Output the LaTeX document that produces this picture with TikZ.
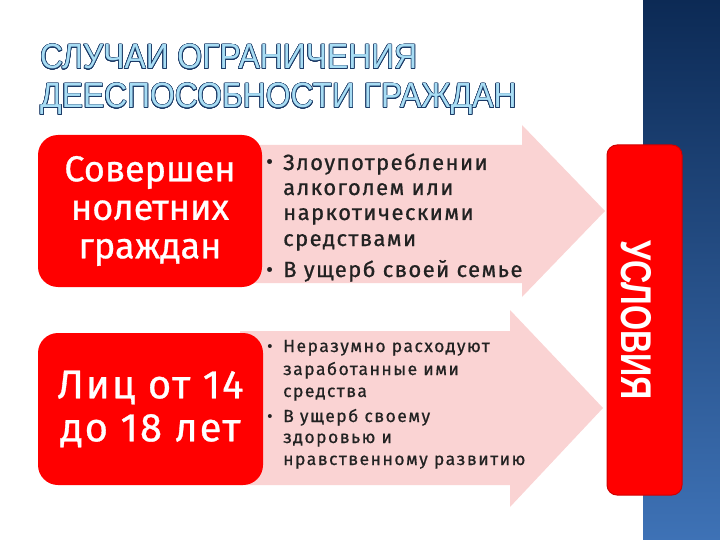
\documentclass[tikz,border=0pt]{standalone}
\usepackage{fontspec}
\setmainfont{Fira Sans}
\newfontfamily\titlefont[FakeStretch=0.91]{Liberation Sans}
\newfontfamily\condfont[FakeStretch=0.75]{Liberation Sans}
\newfontfamily\bodyfontA[FakeBold=0.8, LetterSpace=6.5]{Fira Sans}
\newfontfamily\bodyfontB[FakeBold=0.6, LetterSpace=8.5]{Fira Sans}
\newfontfamily\boxfontA[FakeBold=0.8]{Fira Sans}
\newfontfamily\boxfontB[FakeBold=0.8, LetterSpace=5]{Fira Sans}
\usepackage[copies]{contour}
\contourlength{0.6pt}
\contournumber{24}
\definecolor{boxred}{HTML}{FF0000}
\definecolor{boxedge}{HTML}{D00000}
\definecolor{pinkarrow}{HTML}{FAD3D3}
\definecolor{navy}{HTML}{1B3A66}
\definecolor{titlefill}{HTML}{A8DDF4}
\definecolor{bodytext}{HTML}{222222}
\definecolor{bartop}{HTML}{0C2A55}
\definecolor{barbot}{HTML}{3E72B6}
\tikzset{
  redbox/.style={fill=boxred, rounded corners=20pt, inner sep=0pt, text=white, align=center},
  titleline/.style={anchor=base west, inner sep=0pt, text=titlefill, font=\titlefont\fontsize{35}{38}\selectfont},
  bigtext/.style={anchor=base west, inner sep=0pt, text=bodytext, font=\bodyfontA\fontsize{22}{25}\selectfont},
  smalltext/.style={anchor=base west, inner sep=0pt, text=bodytext, font=\bodyfontB\fontsize{17.5}{22}\selectfont},
  bulletmark/.style={anchor=base west, inner sep=0pt, text=bodytext},
  pinkshape/.style={fill=pinkarrow}
}
\begin{document}
\begin{tikzpicture}[x=1pt,y=-1pt]
\useasboundingbox (0,0) rectangle (720,540);
% right blue bar
\shade[top color=bartop, bottom color=barbot] (643,0) rectangle (720,540);
% title
\node[titleline] (title1) at (40,69) {\contour{navy}{СЛУЧАИ ОГРАНИЧЕНИЯ}};
\node[titleline] (title2) at (40,108) {\contour{navy}{ДЕЕСПОСОБНОСТИ ГРАЖДАН}};
% pink arrows
\fill[pinkshape] (240,145) -- (522,145) -- (522,125) -- (605,211) -- (522,297) -- (522,283) -- (240,283) -- cycle;
\fill[pinkshape] (240,331) -- (510,331) -- (510,310) -- (603,408) -- (510,507) -- (510,485) -- (240,485) -- cycle;
% red boxes
\node[redbox, minimum width=224, minimum height=152, font=\boxfontA\fontsize{36}{38.5}\selectfont] (box1) at (150,211) {Совершен\\нолетних\\граждан};
\node[redbox, minimum width=225, minimum height=152, font=\boxfontB\fontsize{40}{43}\selectfont] (box2) at (150.5,409) {Лиц от 14\\до 18 лет};
% conditions box
\node[fill=boxred, draw=boxedge, line width=1pt, rounded corners=10pt, minimum width=75, minimum height=350, inner sep=0pt] (cond) at (644.5,320) {};
\node[rotate=-90, inner sep=0pt, text=white, font=\condfont\bfseries\fontsize{43}{45}\selectfont] (condtext) at (636.5,320) {УСЛОВИЯ};
% arrow 1 text
\node[bulletmark, font=\fontsize{22}{25}\selectfont] (b1a) at (266,170) {•};
\node[bigtext] (t1a) at (283,170) {Злоупотреблении};
\node[bigtext] (t1b) at (283,195) {алкоголем или};
\node[bigtext] (t1c) at (283,220) {наркотическими};
\node[bigtext] (t1d) at (283,246) {средствами};
\node[bulletmark, font=\fontsize{22}{25}\selectfont] (b1b) at (266,277) {•};
\node[bigtext] (t1e) at (283,277) {В ущерб своей семье};
% arrow 2 text
\node[bulletmark, font=\fontsize{17.5}{22}\selectfont] (b2a) at (267,352) {•};
\node[smalltext] (t2a) at (283,352) {Неразумно расходуют};
\node[smalltext] (t2b) at (283,375) {заработанные ими};
\node[smalltext] (t2c) at (283,397) {средства};
\node[bulletmark, font=\fontsize{17.5}{22}\selectfont] (b2b) at (267,422) {•};
\node[smalltext] (t2d) at (283,422) {В ущерб своему};
\node[smalltext] (t2e) at (283,443) {здоровью и};
\node[smalltext] (t2f) at (283,465) {нравственному развитию};
\end{tikzpicture}
\end{document}
